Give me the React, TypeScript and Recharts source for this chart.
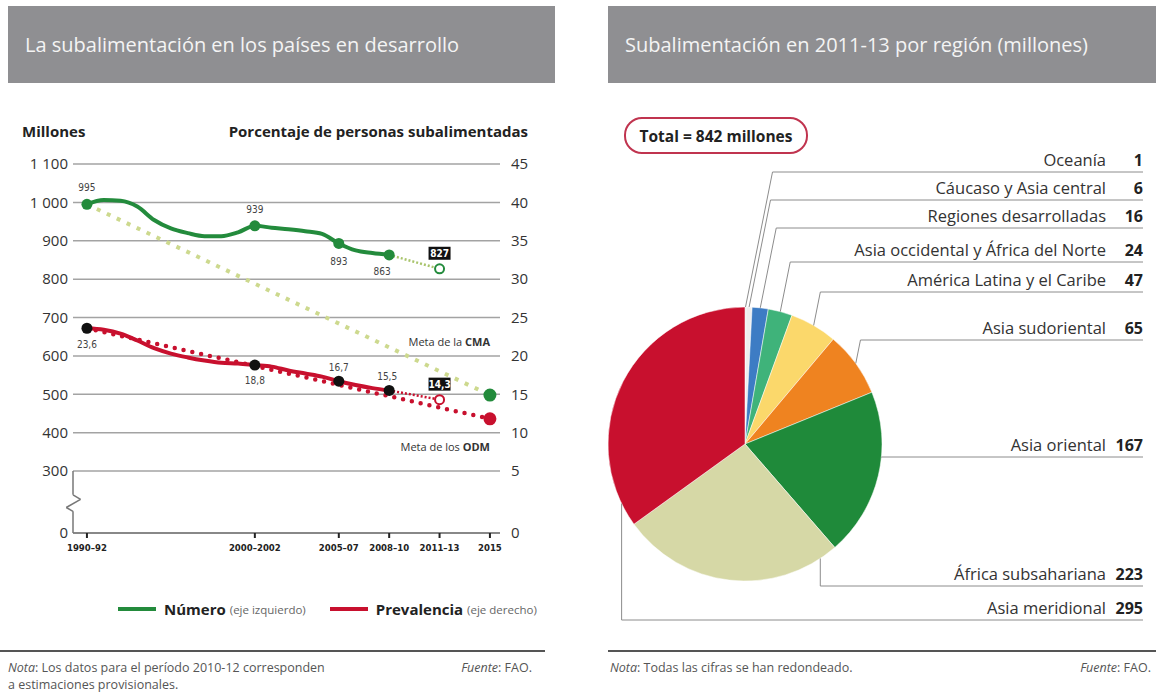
import React from 'react';
import { ComposedChart, Line, XAxis, YAxis, CartesianGrid, ReferenceLine, LabelList, PieChart, Pie, Cell } from 'recharts';

const FONT = '"Open Sans", "Noto Sans", sans-serif';
const NARROW = '"Liberation Sans Narrow", "DejaVu Sans Condensed", sans-serif';
const GREEN = '#238b3c';
const RED = '#c8102e';
const GRID = '#a3a3a3';

// eje x: año central de cada periodo
const YEAR_TICKS = [1991, 2001, 2006, 2009, 2012, 2015];
const YEAR_LABELS = ['1990–92', '2000–2002', '2005–07', '2008–10', '2011–13', '2015'];
const X_DOMAIN = [1990.17, 2015.6];

// eje izquierdo (millones) con corte entre 0 y 300
const BREAK_LEFT = 138.5;
const LEFT_TICKS = [BREAK_LEFT, 300, 400, 500, 600, 700, 800, 900, 1000, 1100];
// eje derecho (%), misma escala: 1100 <-> 45, 300 <-> 5
const BREAK_RIGHT = 5 + (BREAK_LEFT - 300) / 20;
const RIGHT_TICKS = [BREAK_RIGHT, 5, 10, 15, 20, 25, 30, 35, 40, 45];

// Número de personas subalimentadas (millones), curva anual
const NUM_YEARS = [1991, 1992, 1993, 1994, 1995, 1996, 1997, 1998, 1999, 2000, 2001, 2002, 2003, 2004, 2005, 2006, 2007, 2008, 2009];
const NUM_VALUES = [995, 1006, 1004, 989, 954, 932, 920, 912, 912, 922, 939, 934, 930, 925, 918, 893, 875, 868, 863];
// Prevalencia (%), curva anual
const PREV_VALUES = [23.6, 23.4, 22.9, 22.0, 21.0, 20.3, 19.8, 19.4, 19.1, 19.0, 18.8, 18.6, 18.1, 17.7, 17.3, 16.7, 16.2, 15.8, 15.5];

// puntos marcados
const KEY_YEARS = [1991, 2001, 2006, 2009];
const NUM_KEY = [995, 939, 893, 863];
const PREV_KEY = [23.6, 18.8, 16.7, 15.5];
const NUM_LABEL_DX = [0, 0, 0, -7];
const NUM_LABEL_DY = [-13, -13, 22, 20];
const PREV_LABEL_DX = [0, 0, 0, -2];
const PREV_LABEL_DY = [20, 19, -10, -10];

// estimación provisional 2011-13
const PROJ_YEARS = [2009, 2012];
const NUM_PROJ = [863, 827];
const PREV_PROJ = [15.5, 14.3];

// metas para 2015
const GOAL_YEARS = [1991, 2015];
const CMA_GOAL = [995, 498];
const ODM_GOAL = [23.6, 11.8];

// zigzag del corte del eje (años desde el borde, millones)
const BREAK_PATH = [[0, 300], [0, 238], [0.45, 226], [-0.4, 205], [0, 195], [0, BREAK_LEFT]];

// Subalimentación 2011-13 por región (millones)
const REGIONS = ['Oceanía', 'Cáucaso y Asia central', 'Regiones desarrolladas', 'Asia occidental y África del Norte', 'América Latina y el Caribe', 'Asia sudoriental', 'Asia oriental', 'África subsahariana', 'Asia meridional'];
const REGION_VALUES = [1, 6, 16, 24, 47, 65, 167, 223, 295];
const REGION_COLORS = ['#d6d6d6', '#eeeeee', '#3d7cc4', '#3fb37a', '#fbd86b', '#ef8320', '#1f8a3a', '#d6d8a6', '#c8102e'];
const ROW_Y = [172, 200, 228, 262, 292, 340, 457, 586, 620];
const ANCHOR_T = [0.5, 0.5, 0.5, 0.5, 0.5, 0.5, 0.39, 0.08, 0.08];

const toPts = (xs: number[], ys: number[]) => xs.map((year, i) => ({ year, v: ys[i] }));
const numLine = toPts(NUM_YEARS, NUM_VALUES);
const prevLine = toPts(NUM_YEARS, PREV_VALUES);
const numKey = toPts(KEY_YEARS, NUM_KEY);
const prevKey = toPts(KEY_YEARS, PREV_KEY);
const numProj = toPts(PROJ_YEARS, NUM_PROJ);
const prevProj = toPts(PROJ_YEARS, PREV_PROJ);
const cmaGoal = toPts(GOAL_YEARS, CMA_GOAL);
const odmGoal = toPts(GOAL_YEARS, ODM_GOAL);
const pieData = REGIONS.map((name, i) => ({ name, value: REGION_VALUES[i] }));

const pct = (v: number) => v.toFixed(1).replace('.', ',');
const leftFmt = (v: number) => (v === BREAK_LEFT ? '0' : v >= 1000 ? `${Math.floor(v / 1000)} ${String(v % 1000).padStart(3, '0')}` : String(v));
const rightFmt = (v: number) => (v === BREAK_RIGHT ? '0' : String(v));

const dot = (fill: string, r: number) => (p: any) => <circle key={`k-${p.index}`} cx={p.cx} cy={p.cy} r={r} fill={fill} />;
const lastDot = (fill: string, stroke: string, r: number) => (p: any) =>
  p.index === 1 ? <circle key={`e-${p.index}`} cx={p.cx} cy={p.cy} r={r} fill={fill} stroke={stroke} strokeWidth={2} /> : <g key={`e-${p.index}`} />;

const keyLabel = (vals: number[], dx: number[], dy: number[], fmt: (v: number) => string) => (p: any) => {
  const i = p.index ?? vals.indexOf(p.value);
  return (
    <text x={p.x + dx[i]} y={p.y + dy[i]} textAnchor="middle" fontSize={10} fill="#444" fontFamily={NARROW}>{fmt(p.value)}</text>
  );
};

const boxLabel = (vals: number[], fmt: (v: number) => string) => (p: any) => {
  const i = p.index ?? vals.indexOf(p.value);
  if (i !== 1) return <g />;
  return (
    <g>
      <rect x={p.x - 11} y={p.y - 22} width={22} height={13} fill="#111" />
      <text x={p.x} y={p.y - 12} textAnchor="middle" fontSize={10} fontWeight={700} fill="#fff" fontFamily={NARROW}>{fmt(p.value)}</text>
    </g>
  );
};

const PIE_LEFT = 600;
const PIE_TOP = 140;
const RAD = Math.PI / 180;

const regionLabel = (p: any) => {
  const i = p.index;
  const start = p.startAngle ?? p.midAngle;
  const end = p.endAngle ?? p.midAngle;
  const a = start + (end - start) * ANCHOR_T[i];
  const ax = p.cx + p.outerRadius * Math.cos(-a * RAD);
  const ay = p.cy + p.outerRadius * Math.sin(-a * RAD);
  const rowY = ROW_Y[i] - PIE_TOP;
  const ex = rowY < ay ? ax + (ay - rowY) * 0.2 : ax;
  const endX = 1143 - PIE_LEFT;
  return (
    <g key={`rl-${i}`}>
      <polyline points={`${ax},${ay} ${ex},${rowY} ${endX},${rowY}`} fill="none" stroke="#8c8c8c" strokeWidth={1} />
      <text x={1106 - PIE_LEFT} y={rowY - 6} textAnchor="end" fontSize={16.5} fill="#333" fontFamily={FONT}>{REGIONS[i]}</text>
      <text x={endX} y={rowY - 6} textAnchor="end" fontSize={16} fontWeight={700} fill="#222" fontFamily={FONT}>{REGION_VALUES[i]}</text>
    </g>
  );
};

const abs = (s: React.CSSProperties): React.CSSProperties => ({ position: 'absolute', ...s });

export default function App() {
  return (
    <div style={abs({ left: 0, top: 0, width: 1156, height: 700, background: '#fff', fontFamily: FONT, color: '#222', overflow: 'hidden' })}>
      {/* cabeceras */}
      <div style={abs({ left: 8, top: 6, width: 547, height: 77, background: '#8f8f92' })} />
      <div style={abs({ left: 608, top: 6, width: 548, height: 77, background: '#8f8f92' })} />
      <div style={abs({ left: 25, top: 32, fontSize: 20, lineHeight: '26px', color: '#f4f4f4' })}>La subalimentación en los países en desarrollo</div>
      <div style={abs({ left: 625, top: 32, fontSize: 20, lineHeight: '26px', color: '#f4f4f4' })}>Subalimentación en 2011-13 por región (millones)</div>

      {/* gráfico de líneas */}
      <div style={abs({ left: 22, top: 121, fontSize: 15, fontWeight: 700, lineHeight: '20px' })}>Millones</div>
      <div style={abs({ right: 1156 - 528, top: 121, fontSize: 15, fontWeight: 700, lineHeight: '20px' })}>Porcentaje de personas subalimentadas</div>
      <div style={abs({ left: 0, top: 140 })}>
        <ComposedChart width={545} height={430} margin={{ top: 24, right: 0, bottom: 7, left: 0 }}>
          <CartesianGrid yAxisId="left" vertical={false} stroke={GRID} strokeWidth={1.5} />
          <XAxis dataKey="year" type="number" domain={X_DOMAIN} ticks={YEAR_TICKS} allowDataOverflow
            tickFormatter={(v: number) => YEAR_LABELS[YEAR_TICKS.indexOf(v)]}
            axisLine={{ stroke: '#777', strokeWidth: 1.5 }} tickLine={{ stroke: '#222', strokeWidth: 2 }} tickSize={5} tickMargin={6} height={30}
            tick={{ fontSize: 9.5, fontWeight: 700, fill: '#222', fontFamily: NARROW }} />
          <YAxis yAxisId="left" dataKey="v" domain={[BREAK_LEFT, 1100]} ticks={LEFT_TICKS} tickFormatter={leftFmt} allowDataOverflow
            width={73} axisLine={false} tickLine={false} tickSize={0} tickMargin={5}
            tick={{ fontSize: 15, fill: '#333', fontFamily: FONT }} />
          <YAxis yAxisId="right" orientation="right" dataKey="v" domain={[BREAK_RIGHT, 45]} ticks={RIGHT_TICKS} tickFormatter={rightFmt} allowDataOverflow
            width={45} axisLine={false} tickLine={false} tickSize={0} tickMargin={11}
            tick={{ fontSize: 15, fill: '#333', fontFamily: FONT }} />

          {BREAK_PATH.slice(1).map((pt, i) => (
            <ReferenceLine key={`br-${i}`} yAxisId="left" ifOverflow="visible" stroke="#777" strokeWidth={1.5}
              segment={[{ x: X_DOMAIN[0] + BREAK_PATH[i][0], y: BREAK_PATH[i][1] }, { x: X_DOMAIN[0] + pt[0], y: pt[1] }]} />
          ))}

          {/* metas */}
          <Line yAxisId="left" data={cmaGoal} dataKey="v" stroke="#cdd98e" strokeWidth={4} strokeDasharray="4 7"
            dot={lastDot(GREEN, GREEN, 5.5)} isAnimationActive={false} />
          <Line yAxisId="right" data={odmGoal} dataKey="v" stroke={RED} strokeWidth={4.5} strokeDasharray="0 9" strokeLinecap="round"
            dot={lastDot(RED, RED, 5.5)} isAnimationActive={false} />

          {/* series */}
          <Line yAxisId="left" data={numLine} dataKey="v" type="monotone" stroke={GREEN} strokeWidth={4} dot={false} isAnimationActive={false} />
          <Line yAxisId="right" data={prevLine} dataKey="v" type="monotone" stroke={RED} strokeWidth={4} dot={false} isAnimationActive={false} />

          {/* estimaciones provisionales */}
          <Line yAxisId="left" data={numProj} dataKey="v" stroke="#a9c46c" strokeWidth={2.5} strokeDasharray="2 2"
            dot={lastDot('#fff', GREEN, 4.5)} isAnimationActive={false}>
            <LabelList dataKey="v" content={boxLabel(NUM_PROJ, String)} />
          </Line>
          <Line yAxisId="right" data={prevProj} dataKey="v" stroke={RED} strokeWidth={2.5} strokeDasharray="2 2"
            dot={lastDot('#fff', RED, 4.5)} isAnimationActive={false}>
            <LabelList dataKey="v" content={boxLabel(PREV_PROJ, pct)} />
          </Line>

          {/* puntos marcados */}
          <Line yAxisId="left" data={numKey} dataKey="v" stroke="none" dot={dot(GREEN, 5.5)} isAnimationActive={false}>
            <LabelList dataKey="v" content={keyLabel(NUM_KEY, NUM_LABEL_DX, NUM_LABEL_DY, String)} />
          </Line>
          <Line yAxisId="right" data={prevKey} dataKey="v" stroke="none" dot={dot('#111', 5.5)} isAnimationActive={false}>
            <LabelList dataKey="v" content={keyLabel(PREV_KEY, PREV_LABEL_DX, PREV_LABEL_DY, pct)} />
          </Line>
        </ComposedChart>
      </div>
      <div style={abs({ right: 1156 - 490, top: 334, fontSize: 11, color: '#333', lineHeight: '15px' })}>Meta de la <b>CMA</b></div>
      <div style={abs({ right: 1156 - 490, top: 439, fontSize: 11, color: '#333', lineHeight: '15px' })}>Meta de los <b>ODM</b></div>

      {/* leyenda */}
      <div style={abs({ left: 118, top: 599, display: 'flex', alignItems: 'center', whiteSpace: 'nowrap' })}>
        <span style={{ display: 'inline-block', width: 38, height: 4, background: GREEN, marginRight: 8 }} />
        <span style={{ fontSize: 15, fontWeight: 700 }}>Número</span>
        <span style={{ fontSize: 11.5, color: '#666', marginLeft: 4 }}>(eje izquierdo)</span>
        <span style={{ display: 'inline-block', width: 38, height: 4, background: RED, marginLeft: 24, marginRight: 8 }} />
        <span style={{ fontSize: 15, fontWeight: 700 }}>Prevalencia</span>
        <span style={{ fontSize: 11.5, color: '#666', marginLeft: 4 }}>(eje derecho)</span>
      </div>

      {/* notas */}
      <div style={abs({ left: 0, top: 650, width: 545, height: 1.5, background: '#555' })} />
      <div style={abs({ left: 608, top: 650, width: 548, height: 1.5, background: '#555' })} />
      <div style={abs({ left: 8, top: 659, fontSize: 12.5, color: '#555', lineHeight: '17px' })}>
        <i>Nota</i>: Los datos para el período 2010-12 corresponden<br />a estimaciones provisionales.
      </div>
      <div style={abs({ right: 1156 - 532, top: 659, fontSize: 12.5, color: '#555', lineHeight: '17px' })}><i>Fuente</i>: FAO.</div>
      <div style={abs({ left: 610, top: 659, fontSize: 12.5, color: '#555', lineHeight: '17px' })}><i>Nota</i>: Todas las cifras se han redondeado.</div>
      <div style={abs({ right: 5, top: 659, fontSize: 12.5, color: '#555', lineHeight: '17px' })}><i>Fuente</i>: FAO.</div>

      {/* gráfico circular */}
      <div style={abs({ left: 624, top: 117, width: 180, height: 33, border: '2px solid #c0344f', borderRadius: 18, display: 'flex', alignItems: 'center', justifyContent: 'center', fontSize: 15.5, fontWeight: 700 })}>
        Total = 842 millones
      </div>
      <div style={abs({ left: PIE_LEFT, top: PIE_TOP })}>
        <PieChart width={556} height={500} margin={{ top: 0, right: 0, bottom: 0, left: 0 }}>
          <Pie data={pieData} dataKey="value" nameKey="name" cx={145} cy={304} outerRadius={137} startAngle={90} endAngle={-270}
            stroke="#fff" strokeWidth={0.5} label={regionLabel} labelLine={false} isAnimationActive={false}>
            {pieData.map((d, i) => <Cell key={d.name} fill={REGION_COLORS[i]} />)}
          </Pie>
        </PieChart>
      </div>
    </div>
  );
}
